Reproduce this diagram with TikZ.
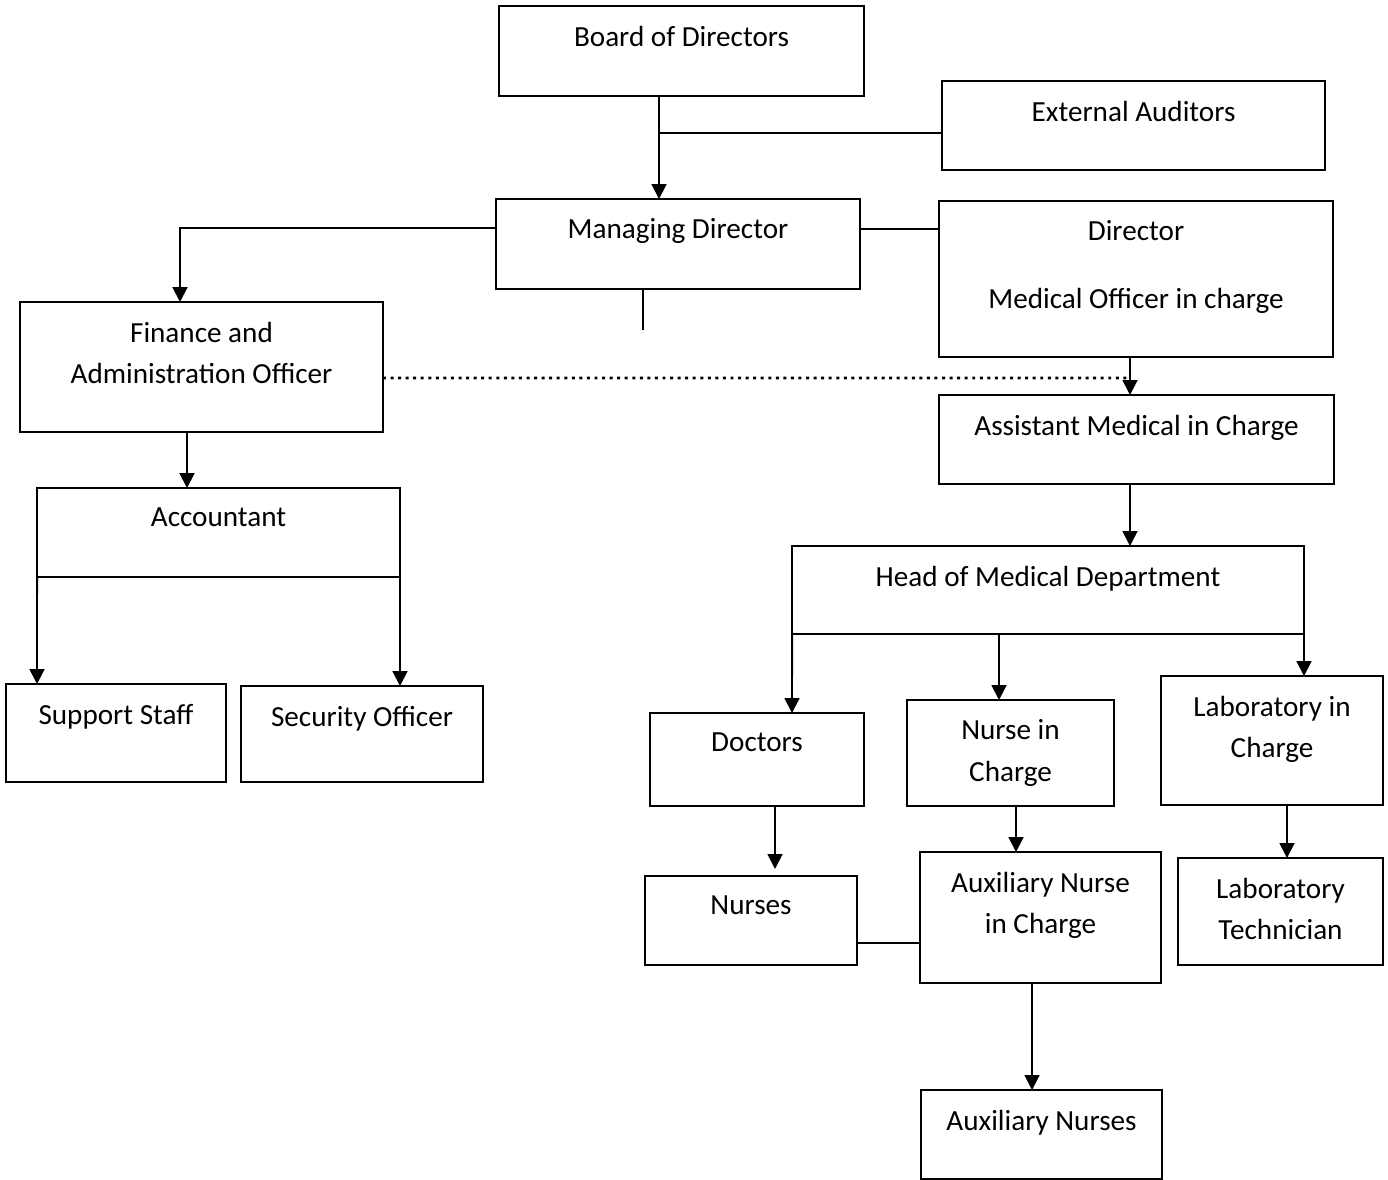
\documentclass[tikz,border=0pt]{standalone}
\usepackage{fontspec}
\setmainfont{Carlito}
\usepackage{tikz}
\usetikzlibrary{arrows.meta,positioning}
\tikzset{box/.style={draw, line width=1.1pt, inner sep=0pt, outer sep=0pt}}
\tikzset{txt/.style={anchor=north, yshift=-0.39cm, align=center, inner sep=0pt}}
\tikzset{conn/.style={draw, line width=1.1pt}}
\tikzset{arr/.style={draw, line width=1.1pt, -{Triangle[width=8.5pt,length=8.5pt]}}}
\tikzset{dots/.style={draw, line width=1.7pt, dash pattern=on 1.7pt off 2.6pt}}

\begin{document}
\begin{tikzpicture}[x=0.02cm, y=-0.02cm, font=\fontsize{16.6}{23.8}\selectfont]
			\useasboundingbox (0,0) rectangle (1388,1179);
			
			\node[box, minimum width=7.3cm, minimum height=1.8cm, label={[txt]north:Board of Directors}] (board) at (681.5,51) {};
			\node[box, minimum width=7.66cm, minimum height=1.78cm, label={[txt]north:External Auditors}] (ext) at (1133.5,125.5) {};
			\node[box, minimum width=7.28cm, minimum height=1.8cm, label={[txt]north:Managing Director}] (md) at (678,244) {};
			\node[box, minimum width=7.88cm, minimum height=3.12cm, label={[txt]north:Director\\[14.8pt]Medical Officer in charge}] (dir) at (1136,279) {};
			\node[box, minimum width=7.26cm, minimum height=2.6cm, label={[txt]north:Finance and\\Administration Officer}] (fin) at (201.5,367) {};
			\node[box, minimum width=7.9cm, minimum height=1.78cm, label={[txt]north:Assistant Medical in Charge}] (asst) at (1136.5,439.5) {};
			\node[box, minimum width=7.26cm, minimum height=1.78cm, label={[txt]north:Accountant}] (acc) at (218.5,532.5) {};
			\node[box, minimum width=4.4cm, minimum height=1.96cm, label={[txt]north:Support Staff}] (sup) at (116,733) {};
			\node[box, minimum width=4.84cm, minimum height=1.92cm, label={[txt]north:Security Officer}] (sec) at (362,734) {};
			\node[box, minimum width=10.24cm, minimum height=1.76cm, label={[txt]north:Head of Medical Department}] (head) at (1048,590) {};
			\node[box, minimum width=4.28cm, minimum height=1.86cm, label={[txt]north:Doctors}] (doc) at (757,759.5) {};
			\node[box, minimum width=4.14cm, minimum height=2.12cm, label={[txt]north:Nurse in\\Charge}] (nic) at (1010.5,753) {};
			\node[box, minimum width=4.44cm, minimum height=2.58cm, label={[txt]north:Laboratory in\\Charge}] (lic) at (1272,740.5) {};
			\node[box, minimum width=4.24cm, minimum height=1.78cm, label={[txt]north:Nurses}] (nurses) at (751,920.5) {};
			\node[box, minimum width=4.82cm, minimum height=2.62cm, label={[txt]north:Auxiliary Nurse\\in Charge}] (anic) at (1040.5,917.5) {};
			\node[box, minimum width=4.1cm, minimum height=2.14cm, label={[txt]north:Laboratory\\Technician}] (ltech) at (1280.5,911.5) {};
			\node[box, minimum width=4.82cm, minimum height=1.78cm, label={[txt]north:Auxiliary Nurses}] (anurses) at (1041.5,1134.5) {};
			
			\coordinate (mdstub) at (643,330);
			\coordinate (dotend) at (1127,378);
			
			\draw[arr] ([xshift=-0.45cm]board.south) -- ([xshift=-0.38cm]md.north);
			\draw[conn] ([yshift=-0.15cm]ext.west) -| ([xshift=-0.45cm]board.south);
			\draw[arr] ([yshift=0.32cm]md.west) -| ([xshift=-0.43cm]fin.north);
			\draw[conn] ([yshift=0.3cm]md.east) -- ([yshift=1cm]dir.west);
			\draw[conn] (md.south -| mdstub) -- (mdstub);
			\draw[arr] ([xshift=-0.12cm]dir.south) -- ([xshift=-0.13cm]asst.north);
			\draw[dots] ([yshift=-0.22cm]fin.east) -- (dotend);
			\draw[arr] ([xshift=-0.29cm]fin.south) -- ([xshift=-0.63cm]acc.north);
			\draw[arr] ([xshift=-0.13cm]asst.south) -- ([xshift=1.64cm]head.north);
			
			\draw[arr] (acc.south west) -- ([xshift=-1.58cm]sup.north);
			\draw[arr] (acc.south east) -- ([xshift=0.76cm]sec.north);
			
			\draw[arr] (head.south west) -- ([xshift=0.7cm]doc.north);
			\draw[arr] ([xshift=-0.98cm]head.south) -- ([xshift=-0.23cm]nic.north);
			\draw[arr] (head.south east) -- ([xshift=0.64cm]lic.north);
			
			\draw[arr, shorten >=4pt] ([xshift=0.36cm]doc.south) -- ([xshift=0.48cm]nurses.north);
			\draw[arr] ([xshift=0.11cm]nic.south) -- ([xshift=-0.49cm]anic.north);
			\draw[conn] ([yshift=-0.45cm]nurses.east) -- ([yshift=-0.51cm]anic.west);
			\draw[arr] ([xshift=-0.17cm]anic.south) -- ([xshift=-0.19cm]anurses.north);
			\draw[arr] ([xshift=0.3cm]lic.south) -- ([xshift=0.13cm]ltech.north);
		\end{tikzpicture}
\end{document}
